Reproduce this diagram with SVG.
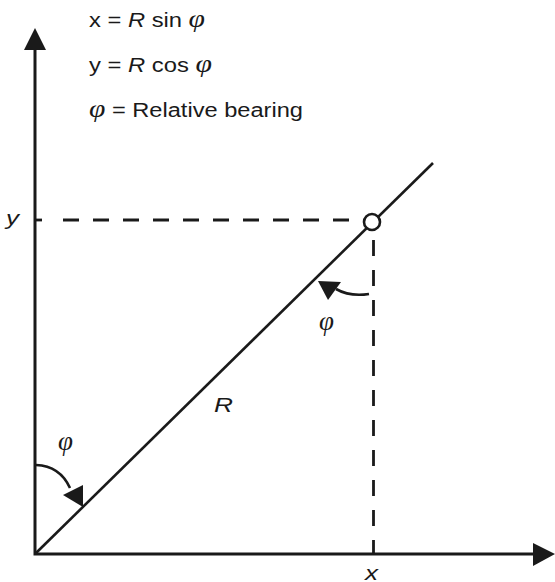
<svg xmlns="http://www.w3.org/2000/svg" width="555" height="582" viewBox="0 0 555 582">
<style>
.ln{fill:none;stroke:#1a1a1a;stroke-width:2.6;stroke-linecap:butt}
.ax{fill:none;stroke:#1a1a1a;stroke-width:3}
.dash{fill:none;stroke:#1a1a1a;stroke-width:2.8;stroke-dasharray:16 14}
.head{fill:#1a1a1a;stroke:none}
.t{font-family:"Liberation Sans",Arial,sans-serif;font-size:20px;fill:#1a1a1a}
.i{font-style:italic}
.phi{font-family:"Liberation Serif","Times New Roman",serif;font-style:italic;font-size:25px}
</style>
<rect width="555" height="582" fill="#ffffff"/>
<g id="axes">
<path class="ax" d="M35 555.5V48M33.5 554H535"/>
<polygon class="head" points="35,28 24,50 46,50"/>
<polygon class="head" points="555,554 533,543 533,566"/>
</g>
<g id="connectors">
<path class="ln" d="M35 554L433 163"/>
<path class="ax" style="stroke-width:2.8" d="M35 220H42"/>
<path class="dash" d="M63 220H363"/>
<path class="dash" d="M373.5 240V554"/>
<path class="ln" d="M369 294Q350 297 336 289"/>
<polygon class="head" points="318,281 341,282 328,300"/>
<path class="ln" d="M36 465Q60 466 70 488"/>
<polygon class="head" points="63,495 83,485 83,507"/>
</g>
<g id="point">
<circle cx="372" cy="222" r="8" fill="#ffffff" stroke="#1a1a1a" stroke-width="2.6"/>
</g>
<g id="legend">
<text class="t" x="89" y="27" textLength="116" lengthAdjust="spacingAndGlyphs">x = <tspan class="i">R</tspan> sin <tspan class="phi">φ</tspan></text>
<text class="t" x="89" y="72" textLength="123" lengthAdjust="spacingAndGlyphs">y = <tspan class="i">R</tspan> cos <tspan class="phi">φ</tspan></text>
<text class="t" x="89" y="117" textLength="214" lengthAdjust="spacingAndGlyphs"><tspan class="phi">φ</tspan> = Relative bearing</text>
</g>
<g id="labels">
<text class="t i" x="6" y="225" textLength="13" lengthAdjust="spacingAndGlyphs">y</text>
<text class="t i" x="365" y="580" textLength="13" lengthAdjust="spacingAndGlyphs">x</text>
<text class="t i" x="214" y="412" textLength="19" lengthAdjust="spacingAndGlyphs">R</text>
<text class="t phi" x="319" y="330" style="font-size:27px">φ</text>
<text class="t phi" x="58" y="450" style="font-size:27px">φ</text>
</g>
</svg>
